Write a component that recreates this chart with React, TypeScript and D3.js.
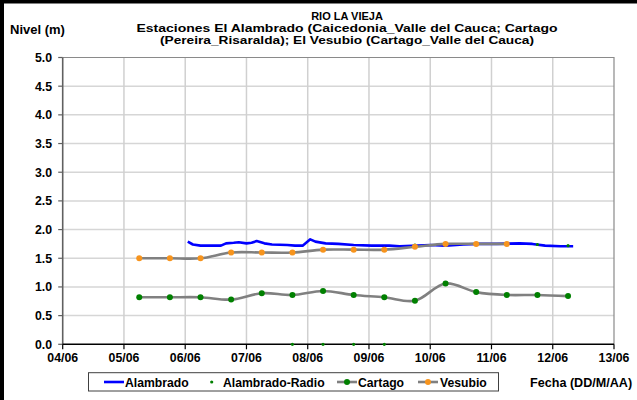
import * as d3 from 'd3';
import { useEffect, useRef } from 'react';

// datos (fecha "dd/mm HH:MM", nivel en m)
const fechasAlambrado = [
  '06/06 01:00', '06/06 03:00', '06/06 06:00', '06/06 10:00', '06/06 14:00', '06/06 16:00',
  '06/06 19:00', '06/06 21:00', '07/06 00:00', '07/06 02:00', '07/06 04:00', '07/06 07:00',
  '07/06 10:00', '07/06 16:00', '07/06 19:00', '07/06 22:00', '08/06 01:00', '08/06 03:00',
  '08/06 07:00', '08/06 12:00', '08/06 18:00', '09/06 01:00', '09/06 08:00', '09/06 12:00',
  '10/06 00:00', '10/06 06:00', '10/06 13:00', '10/06 19:00', '11/06 02:00', '11/06 11:00',
  '11/06 16:00', '11/06 21:00', '12/06 03:00', '12/06 08:00',
];
const nivelAlambrado = [
  1.79, 1.74, 1.72, 1.72, 1.72, 1.76,
  1.77, 1.78, 1.76, 1.77, 1.80, 1.76,
  1.74, 1.73, 1.72, 1.72, 1.83, 1.79,
  1.76, 1.75, 1.73, 1.72, 1.72, 1.71,
  1.73, 1.72, 1.74, 1.75, 1.75, 1.76,
  1.75, 1.72, 1.71, 1.71,
];

const fechasRadio = [
  '07/06 18:00', '08/06 06:00', '08/06 18:00', '09/06 06:00', '09/06 18:00',
  '10/06 06:00', '10/06 18:00', '11/06 06:00', '11/06 18:00', '12/06 06:00',
];
const nivelRadio = [0, 0, 0, 0, 1.73, 1.73, 1.75, 1.75, 1.74, 1.72];

const fechasCartago = [
  '05/06 06:00', '05/06 18:00', '06/06 06:00', '06/06 18:00', '07/06 06:00',
  '07/06 18:00', '08/06 06:00', '08/06 18:00', '09/06 06:00', '09/06 18:00',
  '10/06 06:00', '10/06 18:00', '11/06 06:00', '11/06 18:00', '12/06 06:00',
];
const nivelCartago = [0.82, 0.82, 0.82, 0.78, 0.89, 0.86, 0.93, 0.86, 0.82, 0.76, 1.06, 0.91, 0.86, 0.86, 0.84];

const fechasVesubio = fechasCartago.slice(0, 13);
const nivelVesubio = [1.5, 1.5, 1.5, 1.6, 1.6, 1.6, 1.65, 1.65, 1.65, 1.7, 1.75, 1.75, 1.75];

const tituloLineas = [
  'RIO LA VIEJA',
  'Estaciones El Alambrado (Caicedonia_Valle del Cauca; Cartago',
  '(Pereira_Risaralda);  El Vesubio (Cartago_Valle del Cauca)',
];
const yTicks = [0, 0.5, 1, 1.5, 2, 2.5, 3, 3.5, 4, 4.5, 5];
const xInicio = '04/06 00:00';
const xFin = '13/06 00:00';

type Punto = { t: Date; v: number };

export default function App() {
  const svgRef = useRef<SVGSVGElement | null>(null);

  useEffect(() => {
    if (!svgRef.current) return;
    const svg = d3.select(svgRef.current);
    svg.selectAll('*').remove();

    const parse = d3.timeParse('%d/%m %H:%M');
    const serie = (f: string[], v: number[]): Punto[] => f.map((d, i) => ({ t: parse(d)!, v: v[i] }));

    const left = 62.7, right = 614, top = 57.5, bottom = 344.3;
    const font = '"Liberation Sans", Arial, sans-serif';

    const x = d3.scaleTime().domain([parse(xInicio)!, parse(xFin)!]).range([left, right]);
    const y = d3.scaleLinear().domain([0, 5]).range([bottom, top]);

    svg.attr('font-family', font).attr('font-weight', 'bold');

    // fondo y marco exterior
    svg.append('rect').attr('width', 637).attr('height', 400).attr('fill', '#fff');
    svg.append('rect').attr('x', 2).attr('y', 1.5).attr('width', 700).attr('height', 500)
      .attr('fill', 'none').attr('stroke', '#000').attr('stroke-width', 4);

    // grilla
    const dias = d3.timeDay.range(parse(xInicio)!, d3.timeDay.offset(parse(xFin)!, 1));
    svg.append('g').selectAll('line').data(yTicks.filter(d => d > 0 && d < 5)).join('line')
      .attr('x1', left).attr('x2', right).attr('y1', d => y(d)).attr('y2', d => y(d))
      .attr('stroke', '#d6d6d6').attr('stroke-width', 1.5);
    svg.append('g').selectAll('line').data(dias.slice(1, -1)).join('line')
      .attr('x1', d => x(d)).attr('x2', d => x(d)).attr('y1', top).attr('y2', bottom)
      .attr('stroke', '#d0d0d0').attr('stroke-width', 1.5);

    // borde del área de trazado
    svg.append('path').attr('d', `M${left},${top}H${right}V${bottom}`)
      .attr('fill', 'none').attr('stroke', '#8a8a8a').attr('stroke-width', 1.2);

    // eje Y
    svg.append('line').attr('x1', left).attr('x2', left).attr('y1', top).attr('y2', bottom)
      .attr('stroke', '#606060').attr('stroke-width', 1.6);
    const gy = svg.append('g').selectAll('g').data(yTicks).join('g');
    gy.append('line').attr('x1', left - 4.5).attr('x2', left).attr('y1', d => y(d)).attr('y2', d => y(d))
      .attr('stroke', '#606060').attr('stroke-width', 1.2);
    gy.append('text').attr('x', 52).attr('y', d => y(d)).attr('dy', '0.36em')
      .attr('text-anchor', 'end').attr('font-size', 12.3).text(d => d3.format('.1f')(d));

    // eje X
    svg.append('line').attr('x1', left).attr('x2', right).attr('y1', bottom).attr('y2', bottom)
      .attr('stroke', '#000').attr('stroke-width', 1.5);
    const gx = svg.append('g').selectAll('g').data(dias).join('g');
    gx.append('line').attr('x1', d => x(d)).attr('x2', d => x(d)).attr('y1', bottom).attr('y2', bottom + 5)
      .attr('stroke', '#000').attr('stroke-width', 1.2);
    gx.append('text').attr('x', d => x(d)).attr('y', 362).attr('text-anchor', 'middle')
      .attr('font-size', 12.3).text(d => d3.timeFormat('%d/%m')(d));

    // series
    const linea = (curva: d3.CurveFactory) => d3.line<Punto>().x(d => x(d.t)).y(d => y(d.v)).curve(curva);

    svg.append('path').datum(serie(fechasAlambrado, nivelAlambrado))
      .attr('d', linea(d3.curveLinear)).attr('fill', 'none')
      .attr('stroke', '#0000ff').attr('stroke-width', 2.6).attr('stroke-linejoin', 'round');

    svg.append('g').selectAll('circle').data(serie(fechasRadio, nivelRadio)).join('circle')
      .attr('cx', d => x(d.t)).attr('cy', d => y(d.v)).attr('r', 1.6).attr('fill', '#008000');

    const cartago = serie(fechasCartago, nivelCartago);
    svg.append('path').datum(cartago).attr('d', linea(d3.curveCatmullRom.alpha(0.5)))
      .attr('fill', 'none').attr('stroke', '#808080').attr('stroke-width', 2.6);
    svg.append('g').selectAll('circle').data(cartago).join('circle')
      .attr('cx', d => x(d.t)).attr('cy', d => y(d.v)).attr('r', 3).attr('fill', '#008000');

    const vesubio = serie(fechasVesubio, nivelVesubio);
    svg.append('path').datum(vesubio).attr('d', linea(d3.curveCatmullRom.alpha(0.5)))
      .attr('fill', 'none').attr('stroke', '#808080').attr('stroke-width', 2.6);
    svg.append('g').selectAll('circle').data(vesubio).join('circle')
      .attr('cx', d => x(d.t)).attr('cy', d => y(d.v)).attr('r', 3).attr('fill', '#f7941d');

    // títulos (anchos ajustados a los del original)
    const anchos = [null, 421, 374];
    svg.append('g').selectAll('text').data(tituloLineas).join('text')
      .attr('x', 347).attr('y', (_, i) => 19.5 + i * 12.2).attr('text-anchor', 'middle')
      .attr('font-size', 11)
      .attr('textLength', (_, i) => anchos[i])
      .attr('lengthAdjust', 'spacingAndGlyphs')
      .text(d => d);
    svg.append('text').attr('x', 10).attr('y', 34).attr('font-size', 13).text('Nivel (m)');
    svg.append('text').attr('x', 530).attr('y', 387).attr('font-size', 12.6).text('Fecha (DD/M/AA)');

    // leyenda
    const leg = svg.append('g');
    leg.append('rect').attr('x', 88.5).attr('y', 372.7).attr('width', 410).attr('height', 18.3)
      .attr('fill', '#fff').attr('stroke', '#404040').attr('stroke-width', 1);
    const ly = 382;
    leg.append('line').attr('x1', 104).attr('x2', 124).attr('y1', ly).attr('y2', ly)
      .attr('stroke', '#0000ff').attr('stroke-width', 2.6);
    leg.append('circle').attr('cx', 211.7).attr('cy', ly).attr('r', 1.6).attr('fill', '#008000');
    leg.append('line').attr('x1', 337).attr('x2', 357).attr('y1', ly).attr('y2', ly)
      .attr('stroke', '#808080').attr('stroke-width', 2.6);
    leg.append('circle').attr('cx', 347).attr('cy', ly).attr('r', 3).attr('fill', '#008000');
    leg.append('line').attr('x1', 418).attr('x2', 438).attr('y1', ly).attr('y2', ly)
      .attr('stroke', '#808080').attr('stroke-width', 2.6);
    leg.append('circle').attr('cx', 428).attr('cy', ly).attr('r', 3).attr('fill', '#f7941d');
    const etiquetas: [string, number][] = [['Alambrado', 125], ['Alambrado-Radio', 223], ['Cartago', 358], ['Vesubio', 440]];
    leg.selectAll('text.l').data(etiquetas).join('text').attr('class', 'l')
      .attr('x', d => d[1]).attr('y', 386.5).attr('font-size', 12.2).text(d => d[0]);
  }, []);

  return (
    <svg ref={svgRef} width={637} height={400}
      style={{ position: 'absolute', left: 0, top: 0, display: 'block' }} />
  );
}
